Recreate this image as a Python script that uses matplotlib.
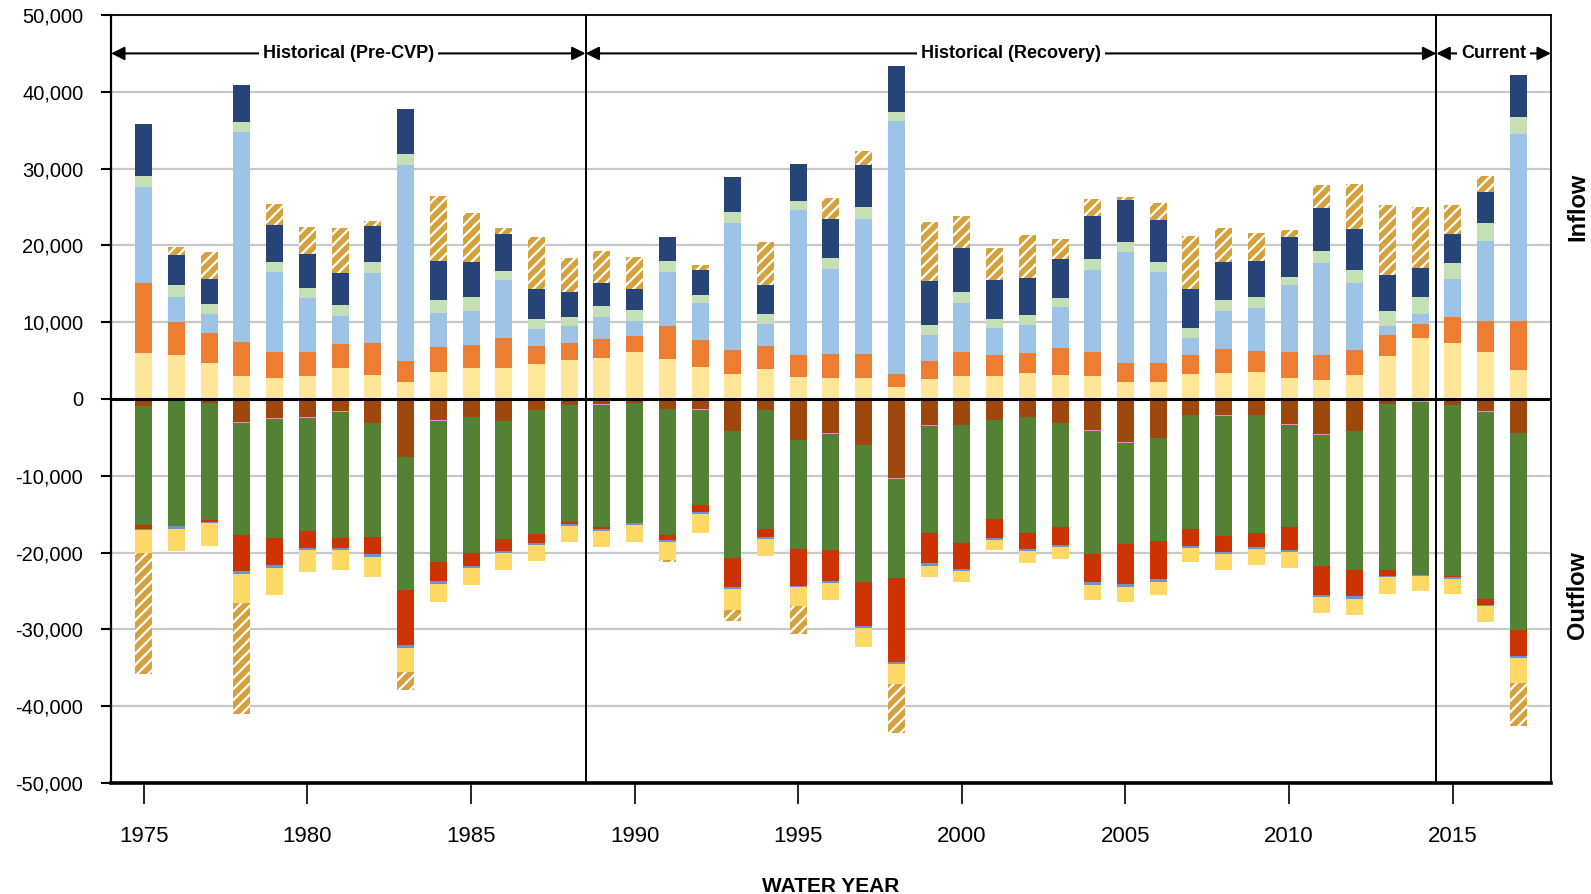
import numpy as np
import matplotlib
matplotlib.use("Agg")
import matplotlib.pyplot as plt
import matplotlib.transforms as mtransforms
from matplotlib.ticker import FuncFormatter

plt.rcParams["font.family"] = ["Liberation Sans", "DejaVu Sans"]
plt.rcParams["hatch.linewidth"] = 1.6

years = list(range(1975, 2018))

# ---- inflow components (stacked upward from 0) ----
in_base = [5960, 5780, 4740, 3040, 2780, 3040, 4090, 3170, 2260, 3570, 4090, 4090, 4610, 5130,
           5390, 6170, 5260, 4220, 3300, 3960, 2910, 2780, 2780, 1610, 2650, 3040, 3040, 3430,
           3170, 3040, 2260, 2260, 3300, 3430, 3570, 2780, 2520, 3170, 5650, 8000, 7350, 6170, 3830]
in_orange = [9130, 4220, 3910, 4350, 3300, 3130, 3040, 4090, 2740, 3260, 3000, 3910, 2350, 2220,
             2480, 2090, 4300, 3520, 3130, 3000, 2870, 3130, 3130, 1700, 2350, 3130, 2740, 2610,
             3520, 3130, 2480, 2480, 2480, 3130, 2740, 3390, 3260, 3260, 2740, 1830, 3390, 4040, 6390]
in_ltblue = [12480, 3220, 2480, 27350, 10520, 7040, 3740, 9090, 25430, 4430, 4430, 7430, 2090, 2090,
             2870, 1960, 7040, 4700, 16430, 2870, 18780, 10960, 17480, 32870, 3390, 6390, 3520, 3650,
             5350, 10570, 14350, 11740, 2220, 4960, 5480, 8610, 11870, 8610, 1170, 1300, 4830, 10300, 24260]
in_ltgreen = [1430, 1570, 1300, 1300, 1300, 1300, 1430, 1430, 1430, 1570, 1700, 1300, 1430, 1300,
              1430, 1430, 1430, 1040, 1430, 1300, 1170, 1430, 1570, 1170, 1300, 1430, 1170, 1300,
              1170, 1430, 1300, 1300, 1300, 1430, 1430, 1170, 1570, 1700, 1960, 2090, 2090, 2350, 2220]
in_navy = [6780, 3910, 3260, 4830, 4700, 4430, 4170, 4700, 5870, 5090, 4570, 4700, 3780, 3130,
           2870, 2610, 3000, 3260, 4570, 3650, 4830, 5090, 5480, 6000, 5610, 5610, 4960, 4830,
           4960, 5610, 5480, 5480, 4960, 4830, 4700, 5090, 5610, 5350, 4570, 3780, 3780, 4040, 5480]
in_storage = [0, 1040, 3390, 0, 2740, 3520, 5740, 650, 0, 8480, 6390, 780, 6780, 4430,
              4170, 4170, 0, 650, 0, 5610, 0, 2740, 1830, 0, 7700, 4170, 4170, 5480,
              2610, 2220, 390, 2220, 6910, 4430, 3650, 910, 3000, 5870, 9130, 7960, 3780, 2090, 0]

# ---- outflow components (stacked downward from 0) ----
out_brown = [960, 300, 570, 2960, 2430, 2300, 1520, 3170, 7610, 2700, 2300, 2830, 1390, 740,
             700, 570, 1350, 1350, 4220, 1480, 5390, 4480, 5960, 10260, 3430, 3430, 2700, 2300,
             3090, 4000, 5650, 5130, 2040, 2040, 2040, 3300, 4610, 4130, 610, 220, 740, 1520, 4480]
out_pink = [0, 0, 0, 200, 130, 130, 130, 0, 0, 130, 0, 0, 0, 100,
            130, 0, 0, 90, 0, 0, 0, 130, 0, 130, 130, 0, 0, 0,
            0, 130, 130, 0, 0, 130, 0, 130, 130, 0, 0, 130, 0, 130, 0]
out_green = [15430, 16300, 15130, 14610, 15480, 14740, 16390, 14780, 17260, 18390, 17740, 15390, 16130, 15130,
             15780, 15520, 16300, 12390, 16430, 15390, 14090, 15000, 17830, 12910, 13830, 15300, 12870, 15090,
             13570, 16040, 13090, 13350, 14870, 15610, 15390, 13220, 16960, 18130, 21650, 22570, 22300, 24390, 25610]
out_red = [480, 0, 260, 4610, 3570, 2220, 1350, 2220, 7170, 2480, 1700, 1570, 1220, 260,
           260, 0, 650, 910, 3830, 1040, 4830, 4090, 5780, 10960, 3910, 3390, 2480, 2130,
           2350, 3650, 5220, 4960, 2170, 2130, 1830, 3000, 3830, 3390, 780, 0, 170, 780, 3390]
out_blue = [130, 300, 170, 350, 390, 260, 260, 390, 390, 390, 260, 260, 260, 260,
            260, 260, 260, 260, 260, 260, 170, 260, 260, 260, 390, 260, 260, 260,
            260, 390, 390, 390, 300, 260, 260, 260, 260, 390, 130, 130, 220, 130, 260]
out_yellow = [3040, 2870, 2960, 3780, 3520, 2870, 2610, 2610, 3130, 2350, 2220, 2220, 2090, 2090,
              2090, 2220, 2350, 2480, 2740, 2220, 2480, 2170, 2430, 2610, 1430, 1430, 1300, 1520,
              1570, 1960, 1960, 1700, 1830, 2090, 2090, 2090, 2090, 2090, 2220, 1960, 1960, 2090, 3260]
out_storage = [15830, 0, 0, 14480, 0, 0, 0, 0, 2300, 0, 0, 0, 0, 0,
               0, 0, 260, 0, 1390, 0, 3610, 0, 0, 6350, 0, 0, 0, 0,
               0, 0, 0, 0, 0, 0, 0, 0, 0, 0, 0, 0, 0, 0, 5570]

xticks = [1975, 1980, 1985, 1990, 1995, 2000, 2005, 2010, 2015]
periods = [("Historical (Pre-CVP)", 1974.0, 1988.5),
           ("Historical (Recovery)", 1988.5, 2014.5),
           ("Current", 2014.5, 2018.0)]

HATCH_TAN = "#D4A13C"
inflow_series = [
    (in_base, "#FFE699"), (in_orange, "#ED7D31"), (in_ltblue, "#9DC3E6"),
    (in_ltgreen, "#C5E0B4"), (in_navy, "#264478"), (in_storage, None),
]
outflow_series = [
    (out_brown, "#9E480E"), (out_pink, "#FF7FCF"), (out_green, "#548235"),
    (out_red, "#CC3300"), (out_blue, "#6F91D2"), (out_yellow, "#FFD966"),
    (out_storage, None),
]

fig = plt.figure(figsize=(15.91, 8.94), dpi=100)
ax = fig.add_axes([0.0698, 0.1242, 0.905, 0.859])

x = np.array(years, dtype=float)
W = 0.52


def stack(series, sign):
    bottom = np.zeros(len(years))
    for vals, col in series:
        v = sign * np.array(vals, dtype=float)
        if col is None:
            # storage change drawn as tan bar with white diagonal stripes
            ax.bar(x, v, W, bottom=bottom, color=HATCH_TAN, edgecolor="white",
                   hatch="///", linewidth=0, zorder=2)
        else:
            ax.bar(x, v, W, bottom=bottom, color=col, linewidth=0, zorder=2)
        bottom += v


stack(inflow_series, 1)
stack(outflow_series, -1)

ax.set_xlim(1974, 2018)
ax.set_ylim(-50000, 50000)
ax.set_yticks(np.arange(-50000, 50001, 10000))
ax.yaxis.set_major_formatter(FuncFormatter(lambda v, p: f"{int(v):,}"))
ax.set_xticks(xticks)
ax.grid(axis="y", color="#C8C8C8", lw=1.6, zorder=0)
ax.set_axisbelow(True)
ax.axhline(0, color="black", lw=2.2, zorder=3)

ax.tick_params(axis="y", direction="out", length=7, width=1.5, pad=13, labelsize=14.5)
ax.tick_params(axis="x", direction="out", length=15, width=1.2, pad=16, labelsize=16)
for side, lw in [("left", 1.6), ("bottom", 2.6), ("top", 1.3), ("right", 1.3)]:
    ax.spines[side].set_linewidth(lw)

# period dividers + double arrows
for name, x0, x1 in periods:
    if x1 < 2018:
        ax.axvline(x1, color="black", lw=1.4, zorder=4)
    ax.annotate("", xy=(x0, 45000), xytext=(x1, 45000),
                arrowprops=dict(arrowstyle="<|-|>", color="black", lw=1.5,
                                mutation_scale=20, shrinkA=0, shrinkB=0), zorder=5)
    ax.text((x0 + x1) / 2, 45000, name, ha="center", va="center", fontsize=13,
            fontweight="bold", zorder=6,
            bbox=dict(facecolor="white", edgecolor="none", pad=3))

trans = mtransforms.blended_transform_factory(ax.transAxes, ax.transData)
ax.text(1.0187, 25000, "Inflow", transform=trans, rotation=90, ha="center",
        va="center", fontsize=17, fontweight="bold")
ax.text(1.0187, -25500, "Outflow", transform=trans, rotation=90, ha="center",
        va="center", fontsize=17, fontweight="bold")

fig.text(0.522, 1 - 887 / 894, "WATER YEAR", ha="center", va="center",
         fontsize=15, fontweight="bold")

fig.savefig("out.png", dpi=100)
